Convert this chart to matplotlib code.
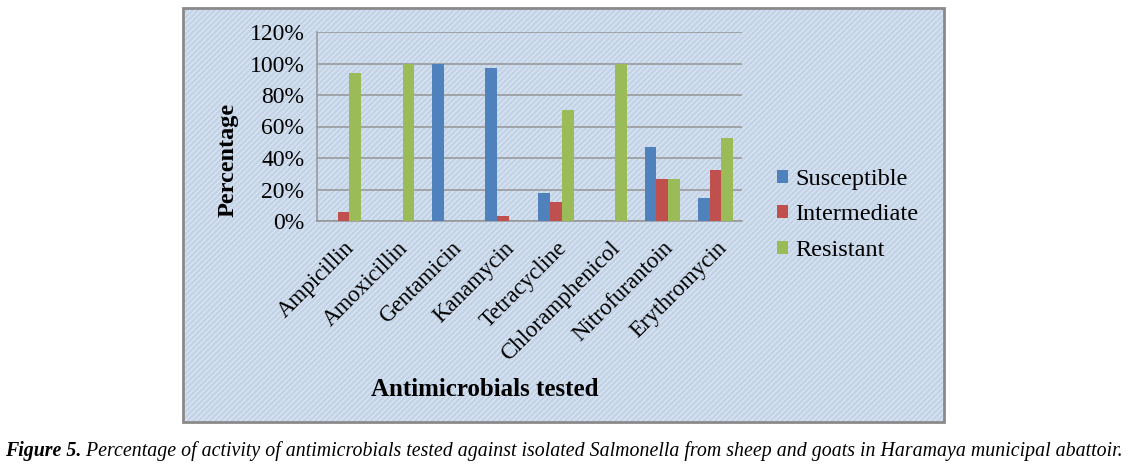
import matplotlib
matplotlib.use("Agg")
import matplotlib.pyplot as plt
import matplotlib.transforms as mtransforms
from matplotlib.patches import Rectangle
import numpy as np

categories = ["Ampicillin", "Amoxicillin", "Gentamicin", "Kanamycin",
              "Tetracycline", "Chloramphenicol", "Nitrofurantoin", "Erythromycin"]
susceptible = [0, 0, 100, 97.1, 17.6, 0, 47.1, 14.7]
intermediate = [5.9, 0, 0, 2.9, 11.8, 0, 26.5, 32.4]
resistant = [94.1, 100, 0, 0, 70.6, 100, 26.5, 52.9]
series_names = ["Susceptible", "Intermediate", "Resistant"]
colors = ["#4F81BD", "#C0504D", "#9BBB59"]
yticks = [0, 20, 40, 60, 80, 100, 120]
ylabel = "Percentage"
xlabel = "Antimicrobials tested"
caption_bold = "Figure 5."
caption_rest = " Percentage of activity of antimicrobials tested against isolated Salmonella from sheep and goats in Haramaya municipal abattoir."

W, H = 1128, 472
fig = plt.figure(figsize=(W / 100, H / 100), dpi=100)
fig.patch.set_facecolor("white")
serif = "Liberation Serif"

# chart area with textured background
bx0, by0, bx1, by1 = 183, 8, 944, 422
plt.rcParams["hatch.linewidth"] = 1.0
bg = Rectangle((bx0 / W, 1 - by1 / H), (bx1 - bx0) / W, (by1 - by0) / H,
               transform=fig.transFigure, facecolor="#c3d3e7", edgecolor="#dae4f1",
               hatch="//////", linewidth=0, zorder=-10)
fig.patches.append(bg)
border = Rectangle((bx0 / W, 1 - by1 / H), (bx1 - bx0) / W, (by1 - by0) / H,
                   transform=fig.transFigure, facecolor="none", edgecolor="#8a8a8a",
                   linewidth=2, zorder=10)
fig.patches.append(border)

px0, px1, py_top, py_bot = 317, 742, 32, 221
ax = fig.add_axes([px0 / W, 1 - py_bot / H, (px1 - px0) / W, (py_bot - py_top) / H])
ax.patch.set_alpha(0)

x = np.arange(len(categories))
bw = 1 / 4.5
for k, (vals, c, name) in enumerate(zip([susceptible, intermediate, resistant], colors, series_names)):
    ax.bar(x + (k - 1) * bw, vals, width=bw, color=c, label=name, zorder=3)

ax.set_xlim(-0.5, len(categories) - 0.5)
ax.set_ylim(0, 120)
ax.set_yticks(yticks)
ax.set_yticklabels([f"{v}%" for v in yticks], fontsize=17, family=serif)
ax.yaxis.grid(True, color="#959595", linewidth=1.1, zorder=1)
ax.set_axisbelow(True)
for s in ["top", "right"]:
    ax.spines[s].set_visible(False)
for s in ["left", "bottom"]:
    ax.spines[s].set_color("#959595")
    ax.spines[s].set_linewidth(1.1)
ax.tick_params(axis="y", length=0, pad=9)
ax.set_xticks(x)
ax.set_xticklabels([])
ax.tick_params(axis="x", length=0)

trans = mtransforms.blended_transform_factory(ax.transData, ax.transAxes) + \
    mtransforms.ScaledTranslation(8 / 100, -24 / 100, fig.dpi_scale_trans)
for i, cat in enumerate(categories):
    ax.text(i, 0, cat, transform=trans, rotation=45, rotation_mode="anchor",
            ha="right", va="center", fontsize=16.5, family=serif)

fig.text(228 / W, 1 - 160 / H, ylabel, rotation=90, ha="center", va="center",
         fontsize=17.5, fontweight="bold", family=serif)
fig.text(485 / W, 1 - 389 / H, xlabel, ha="center", va="center",
         fontsize=18, fontweight="bold", family=serif)

leg = fig.legend(loc="center left", bbox_to_anchor=(777 / W, 1 - 215 / H),
                 frameon=False, prop={"family": serif, "size": 17.5},
                 handlelength=0.45, handleheight=0.45, handletextpad=0.3,
                 labelspacing=0.6, borderpad=0, borderaxespad=0)

# caption
t1 = fig.text(5 / W, 1 - 451 / H, caption_bold, ha="left", va="center",
              fontsize=14.35, fontweight="bold", style="italic", family=serif)
fig.canvas.draw()
bb = t1.get_window_extent()
fig.text(bb.x1 / W, 1 - 451 / H, caption_rest, ha="left", va="center",
         fontsize=14.35, style="italic", family=serif)

fig.savefig("out.png", dpi=100)
